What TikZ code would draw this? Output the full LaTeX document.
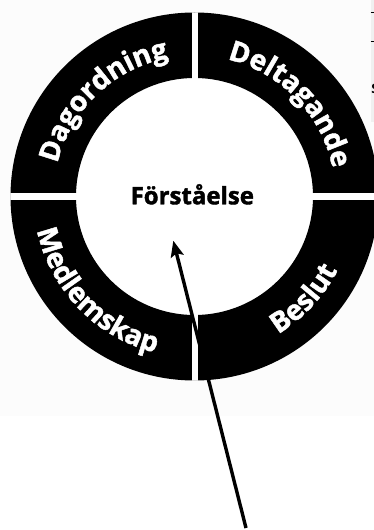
\documentclass[tikz,border=0pt]{standalone}
\usepackage{fontspec}
\setmainfont{Open Sans}
\newfontfamily\heavyfont[FakeBold=1.6]{Open Sans}
\usetikzlibrary{arrows.meta,decorations.text}
\tikzset{
  ringtext/.style={decorate, decoration={text along path, text align=center,
      text color=white, text={|\heavyfont\bfseries\fontsize{28}{28}\selectfont|#1}}},
  ringfill/.style={fill=black, even odd rule},
  gapfill/.style={fill=white},
  pointer/.style={draw=black, line width=3.4pt, -{Stealth[length=16pt, width=13pt, inset=3pt]}},
  centertext/.style={font=\heavyfont\bfseries\fontsize{24}{24}\selectfont, inner sep=0pt}
}
\begin{document}
\begin{tikzpicture}[x=1pt,y=1pt]
\useasboundingbox (0,0) rectangle (374,530);
\fill[white] (0,0) rectangle (374,530);
\fill[gray!2] (0,114.3) rectangle (374,530);
% cropped table fragment at top right
\begin{scope}
  \clip (370.7,408) rectangle (374,530);
  \fill[gray!12] (370.7,408) rectangle (374,530);
  \draw[line width=0.9pt] (370.7,517.7) -- (374,517.7);
  \draw[line width=0.9pt] (370.7,488.5) -- (374,488.5);
  \node[anchor=base west, inner sep=0pt, font=\bfseries\fontsize{13}{13}\selectfont] (frag) at (371.2,436) {S};
\end{scope}
\begin{scope}[shift={(194.5,333.5)}]
  \coordinate (C) at (0,0);
  \fill[white] (C) circle[radius=118.5];
  \fill[ringfill] (C) circle[radius=184] (C) circle[radius=118.5];
  \begin{scope}
    \clip (C) circle[radius=184.2];
    \fill[gapfill] (-2.8,-190) rectangle (3.8,190);
    \fill[gapfill] (-190,-3.6) rectangle (190,3.6);
  \end{scope}
  \path[ringtext={Dagordning}] (180:141) arc[start angle=180, end angle=87, radius=141];
  \path[ringtext={Deltagande}] (88:141) arc[start angle=88, end angle=0, radius=141];
  \path[ringtext={Medlemskap}] (178:161) arc[start angle=178, end angle=270, radius=161];
  \path[ringtext={Beslut}] (272:161) arc[start angle=272, end angle=362, radius=161];
\end{scope}
\node[centertext, anchor=base] (ctr) at (192.3,325.7) {Förståelse};
\coordinate (tail) at (246,2);
\coordinate (tip) at (173.3,289.3);
\draw[pointer] (tail) -- (tip);
\end{tikzpicture}
\end{document}
